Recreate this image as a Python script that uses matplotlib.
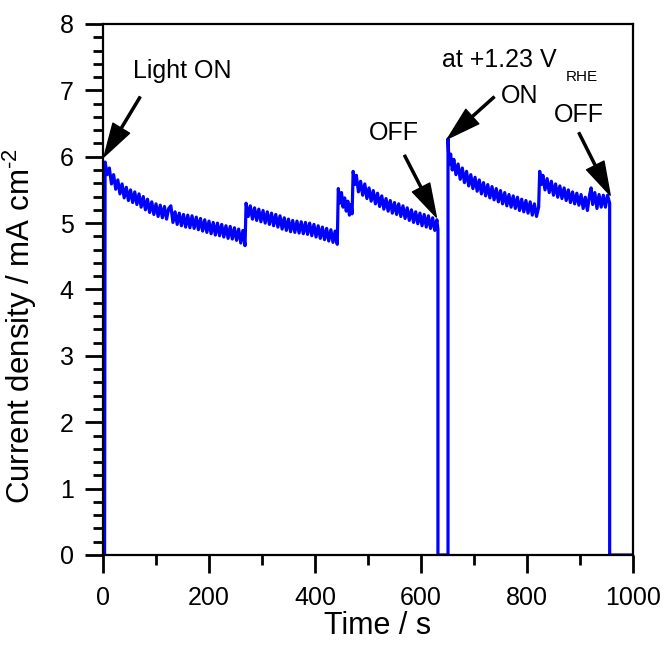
import matplotlib
matplotlib.use("Agg")
import matplotlib.pyplot as plt
from matplotlib.ticker import MultipleLocator

plt.rcParams['font.family'] = ['Liberation Sans', 'DejaVu Sans']
plt.rcParams['path.simplify'] = False
plt.rcParams['mathtext.fontset'] = 'custom'
plt.rcParams['mathtext.rm'] = 'Liberation Sans'

# first illumination period (light switched on at ~3 s, off at ~632 s)
t_run1 = [4, 8, 12, 16, 20, 24, 28, 32, 36, 40,
          44, 48, 52, 56, 60, 64, 68, 72, 76, 80,
          84, 88, 92, 96, 100, 104, 108, 112, 116, 120,
          124, 128, 132, 136, 140, 144, 148, 152, 156, 160,
          164, 168, 172, 176, 180, 184, 188, 192, 196, 200,
          204, 208, 212, 216, 220, 224, 228, 232, 236, 240,
          244, 248, 252, 256, 260, 264, 268,
          270, 274, 278, 282, 286, 290, 294, 298, 302, 306,
          310, 314, 318, 322, 326, 330, 334, 338, 342, 346,
          350, 354, 358, 362, 366, 370, 374, 378, 382, 386,
          390, 394, 398, 402, 406, 410, 414, 418, 422, 426,
          430, 434, 438, 442,
          444, 447, 450, 453, 456, 459, 462, 465, 468, 470,
          472, 475, 478,
          482, 486, 490, 494, 498, 502, 506, 510, 514, 518,
          522, 526, 530, 534, 538, 542, 546, 550, 554, 558,
          562, 566, 570, 574, 578, 582, 586, 590, 594, 598,
          602, 606, 610, 614, 618, 622, 626, 630, 632]
j_run1 = [5.92, 5.73, 5.83, 5.59, 5.73, 5.51, 5.65, 5.44, 5.59, 5.38,
          5.54, 5.34, 5.50, 5.31, 5.47, 5.28, 5.44, 5.24, 5.40, 5.20,
          5.36, 5.16, 5.32, 5.13, 5.29, 5.10, 5.27, 5.08, 5.25, 5.06,
          5.22, 5.26, 5.01, 5.17, 4.98, 5.15, 4.96, 5.13, 4.94, 5.12,
          4.93, 5.11, 4.92, 5.09, 4.90, 5.07, 4.88, 5.05, 4.86, 5.03,
          4.84, 5.01, 4.82, 5.00, 4.81, 4.98, 4.79, 4.96, 4.77, 4.95,
          4.76, 4.93, 4.74, 4.91, 4.70, 4.89, 4.66,
          5.30, 5.10, 5.26, 5.06, 5.23, 5.04, 5.21, 5.02, 5.19, 5.00,
          5.17, 4.98, 5.15, 4.96, 5.13, 4.94, 5.11, 4.91, 5.08, 4.89,
          5.06, 4.87, 5.04, 4.86, 5.03, 4.85, 5.02, 4.84, 5.01, 4.83,
          5.00, 4.81, 4.98, 4.79, 4.96, 4.77, 4.94, 4.75, 4.92, 4.73,
          4.90, 4.71, 4.88, 4.68,
          5.52, 5.30, 5.46, 5.24, 5.38, 5.18, 5.33, 5.12, 5.28, 5.14,
          5.78, 5.58, 5.72,
          5.47, 5.63, 5.42, 5.59, 5.37, 5.53, 5.33, 5.49, 5.29, 5.45,
          5.25, 5.41, 5.21, 5.37, 5.18, 5.34, 5.15, 5.31, 5.13, 5.29,
          5.10, 5.26, 5.07, 5.23, 5.04, 5.20, 5.01, 5.17, 4.99, 5.15,
          4.96, 5.13, 4.94, 5.11, 4.92, 5.08, 4.89, 5.05, 4.90]

# second illumination period (on at ~651 s, off at ~956 s)
t_run2 = [651, 653, 656, 659, 662,
          666, 670, 674, 678, 682, 686, 690, 694, 698, 702,
          706, 710, 714, 718, 722, 726, 730, 734, 738, 742,
          746, 750, 754, 758, 762, 766, 770, 774, 778, 782,
          786, 790, 794, 798, 802, 806, 810, 814, 818, 822,
          824, 827, 830,
          834, 838, 842, 846, 850, 854, 858, 862, 866, 870,
          874, 878, 882, 886, 890, 894, 898, 902, 906, 910,
          914, 918, 921, 924, 928, 932, 936, 940, 944, 948,
          952, 956]
j_run2 = [6.27, 5.88, 6.04, 5.80, 5.96,
          5.73, 5.89, 5.66, 5.83, 5.61, 5.78, 5.56, 5.73, 5.52, 5.69,
          5.48, 5.65, 5.44, 5.61, 5.41, 5.58, 5.38, 5.55, 5.35, 5.52,
          5.32, 5.49, 5.29, 5.46, 5.26, 5.43, 5.24, 5.41, 5.22, 5.39,
          5.19, 5.36, 5.17, 5.34, 5.15, 5.32, 5.12, 5.29, 5.10, 5.24,
          5.78, 5.58, 5.72,
          5.50, 5.67, 5.46, 5.63, 5.42, 5.59, 5.39, 5.56, 5.37, 5.53,
          5.34, 5.50, 5.31, 5.47, 5.29, 5.45, 5.27, 5.43, 5.22, 5.39,
          5.19, 5.42, 5.53, 5.28, 5.46, 5.22, 5.43, 5.24, 5.42, 5.24,
          5.42, 5.30]

# dark periods (current = 0)
t_dark = [[0, 3], [632, 651], [956, 1000]]

time = t_dark[0] + t_run1 + t_dark[1] + t_run2 + t_dark[2]
current = [0, 0] + j_run1 + [0, 0] + j_run2 + [0, 0]

fig = plt.figure(figsize=(6.67, 6.46), dpi=100)
ax = fig.add_axes([0.1544, 0.1409, 0.7946, 0.8220])

ax.plot(time, current, color='#0000ff', lw=2.3, solid_joinstyle='round')

ax.set_xlim(0, 1000)
ax.set_ylim(0, 8)
ax.xaxis.set_major_locator(MultipleLocator(200))
ax.xaxis.set_minor_locator(MultipleLocator(100))
ax.yaxis.set_major_locator(MultipleLocator(1))
ax.yaxis.set_minor_locator(MultipleLocator(0.2))
ax.tick_params(which='major', direction='out', length=13, width=2, labelsize=18,
               top=False, right=False)
ax.tick_params(which='minor', direction='out', length=7, width=2,
               top=False, right=False)
ax.tick_params(axis='x', pad=9)
ax.tick_params(axis='y', pad=8)
for s in ax.spines.values():
    s.set_linewidth(1.6)

ax.set_xlabel('Time / s', fontsize=22)
ax.set_ylabel('Current density / mA cm$^{\\text{-}2}$', fontsize=22.5)
ax.xaxis.set_label_coords(0.518, -0.105)
ax.yaxis.set_label_coords(-0.12, 0.431)

arrow = dict(facecolor='black', edgecolor='black', width=1.5,
             headwidth=14, headlength=24, shrink=0)
ax.annotate('', xy=(2, 6.0), xytext=(70, 6.9), arrowprops=arrow, annotation_clip=False)
ax.annotate('', xy=(650, 6.27), xytext=(738, 6.9), arrowprops=arrow)
ax.annotate('', xy=(629, 5.09), xytext=(569, 6.02), arrowprops=arrow)
ax.annotate('', xy=(957, 5.42), xytext=(898, 6.36), arrowprops=arrow)

ax.text(149, 7.29, 'Light ON', fontsize=18, ha='center', va='center')
ax.text(787, 6.92, 'ON', fontsize=18, ha='center', va='center')
ax.text(548, 6.36, 'OFF', fontsize=18, ha='center', va='center')
ax.text(898, 6.63, 'OFF', fontsize=18, ha='center', va='center')
ax.text(640, 7.45, 'at +1.23 V', fontsize=18, ha='left', va='center')
ax.text(874, 7.2, 'RHE', fontsize=11, ha='left', va='center')

fig.savefig('out.png', dpi=100)
